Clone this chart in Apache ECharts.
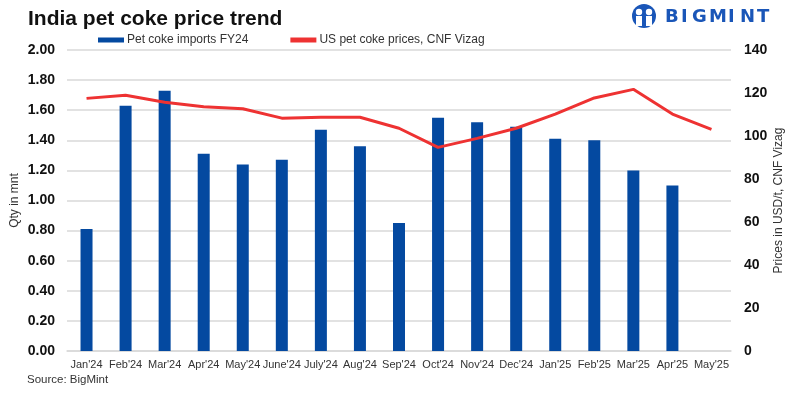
<!DOCTYPE html>
<html><head><meta charset="utf-8">
<script src="https://cdn.jsdelivr.net/npm/echarts@6/dist/echarts.min.js"></script>
<style>html,body{margin:0;padding:0;background:#fff}#c{width:793px;height:393px}</style>
</head><body><div id="c"></div>
<script>
const categories = ["Jan'24","Feb'24","Mar'24","Apr'24","May'24","June'24","July'24","Aug'24","Sep'24","Oct'24","Nov'24","Dec'24","Jan'25","Feb'25","Mar'25","Apr'25","May'25"];
const imports = [0.81,1.63,1.73,1.31,1.24,1.27,1.47,1.36,0.85,1.55,1.52,1.49,1.41,1.40,1.20,1.10,null];
const prices = [117.5,119,115.7,113.6,112.7,108.3,108.7,108.7,103.6,94.7,98.9,103.6,110.2,117.7,121.7,110.2,103.1];
const leftTicks = [0,0.2,0.4,0.6,0.8,1.0,1.2,1.4,1.6,1.8,2.0];
const logoLetters = ['B','I','G','M','I','N','T'];

const chart = echarts.init(document.getElementById('c'));
const FONT = 'Liberation Sans';
const letterX = [0,16,27,44,63,75,92];
chart.setOption({
  animation:false,
  textStyle:{fontFamily:FONT},
  title:{text:'India pet coke price trend',left:23,top:4,textStyle:{fontFamily:FONT,fontSize:21,fontWeight:'bold',color:'#111'}},
  legend:{top:29,left:93,itemGap:42,itemWidth:26,itemHeight:5,textStyle:{fontSize:12,color:'#333',fontFamily:FONT,padding:[0,0,0,-2]},
    data:[{name:'Pet coke imports FY24',icon:'rect'},{name:'US pet coke prices, CNF Vizag',icon:'rect',itemStyle:{color:'#ee3232'}}]},
  grid:{left:67,right:62,top:50,bottom:42,outerBoundsMode:'none',containLabel:false},
  xAxis:{type:'category',data:categories,axisTick:{show:false},
    axisLine:{lineStyle:{color:'#d9d9d9',width:1.5}},
    axisLabel:{color:'#333',fontSize:11,margin:8,interval:0}},
  yAxis:[
    {type:'value',min:0,max:2,interval:0.2,name:'Qty in mnt',nameLocation:'middle',nameGap:46,nameRotate:90,nameMoveOverlap:false,
     nameTextStyle:{fontSize:12,color:'#333'},
     axisLabel:{formatter:v=>v.toFixed(2),fontWeight:'bold',fontSize:14,color:'#111',margin:12},
     splitLine:{lineStyle:{color:'#d9d9d9',width:1.5}}},
    {type:'value',min:0,max:140,interval:20,name:'Prices in USD/t, CNF Vizag',nameLocation:'middle',nameGap:42,nameRotate:90,nameMoveOverlap:false,
     nameTextStyle:{fontSize:12,color:'#333'},
     axisLabel:{fontWeight:'bold',fontSize:14,color:'#111',margin:13},
     splitLine:{show:false}}
  ],
  series:[
    {name:'Pet coke imports FY24',type:'bar',data:imports,barWidth:12,itemStyle:{color:'#0449a0'}},
    {name:'US pet coke prices, CNF Vizag',type:'line',yAxisIndex:1,data:prices,symbol:'none',
     lineStyle:{color:'#ee3232',width:3},itemStyle:{color:'#ee3232'}}
  ],
  graphic:[
    {type:'text',left:27,top:374,style:{text:'Source: BigMint',fontSize:11.5,fill:'#333',fontFamily:FONT}},
    {type:'group',left:632,top:4,children:[
      {type:'circle',shape:{cx:12,cy:12,r:12},style:{fill:'#1a56b8'}},
      {type:'circle',shape:{cx:7,cy:8,r:3.2},style:{fill:'#fff'}},
      {type:'circle',shape:{cx:17,cy:8,r:3.2},style:{fill:'#fff'}},
      {type:'rect',shape:{x:4,y:12,width:6,height:10},style:{fill:'#fff'}},
      {type:'rect',shape:{x:14,y:12,width:6,height:10},style:{fill:'#fff'}}
    ].concat(logoLetters.map((ch,i)=>({type:'text',x:33+letterX[i],y:4,style:{text:ch,fontSize:18,fontWeight:'bold',fill:'#1a56b8',fontFamily:'DejaVu Sans'}})))}
  ]
});
</script></body></html>
